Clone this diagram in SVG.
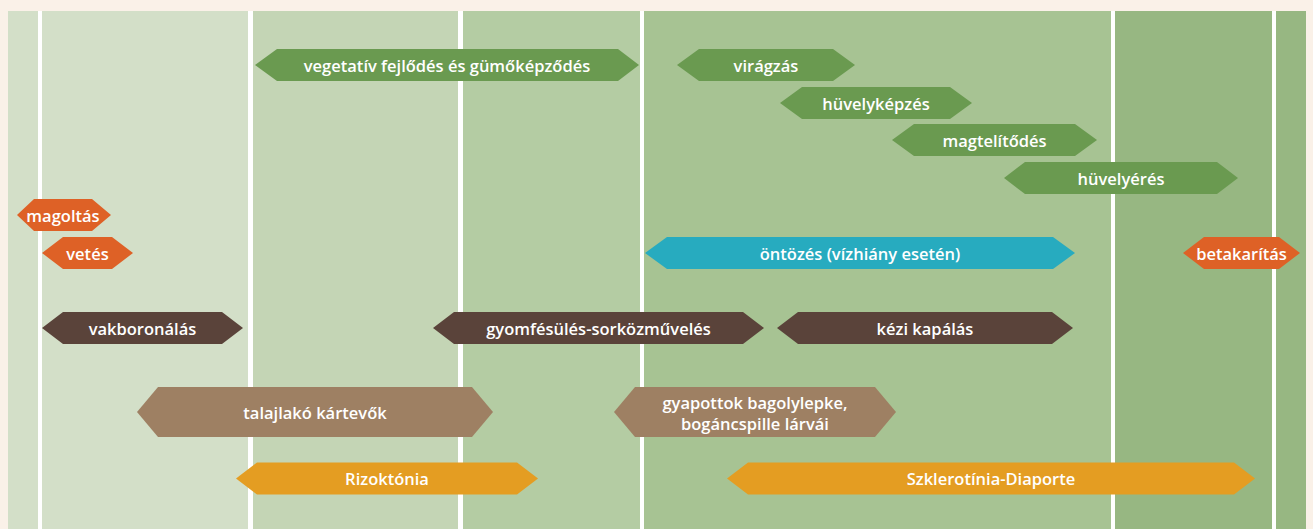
<svg xmlns="http://www.w3.org/2000/svg" width="1313" height="529" viewBox="0 0 1313 529">
<style>
text{font-family:"Open Sans","Noto Sans","Liberation Sans",sans-serif;font-size:16.5px;font-weight:600;fill:#ffffff;text-anchor:middle;dominant-baseline:central}
.g{fill:#6A9A50}.o{fill:#DE6126}.t{fill:#27ABBF}.d{fill:#5A433A}.b{fill:#9E8063}.y{fill:#E49D22}
.sep{fill:#ffffff}
</style>
<rect x="0" y="0" width="1313" height="529" fill="#FAF1E8"/>
<g id="background">
<rect x="8" y="11" width="240" height="518" fill="#D3DFC8"/>
<rect x="248" y="11" width="212" height="518" fill="#C4D5B5"/>
<rect x="460" y="11" width="182" height="518" fill="#B4CCA3"/>
<rect x="642" y="11" width="471" height="518" fill="#A7C393"/>
<rect x="1113" y="11" width="193" height="518" fill="#97B782"/>
<rect class="sep" x="38" y="11" width="4" height="518"/>
<rect class="sep" x="248" y="11" width="5" height="518"/>
<rect class="sep" x="458" y="11" width="5" height="518"/>
<rect class="sep" x="640" y="11" width="4" height="518"/>
<rect class="sep" x="1111" y="11" width="4" height="518"/>
<rect class="sep" x="1272" y="11" width="4" height="518"/>
</g>
<g id="connectors"></g>
<g id="n-vegetativ"><polygon class="g" points="255,65 277,49 618,49 639,65 618,81 277,81"/><text x="447" y="65">vegetatív fejlődés és gümőképződés</text></g>
<g id="n-viragzas"><polygon class="g" points="677,65 699,49 833,49 855,65 833,81 699,81"/><text x="766" y="65">virágzás</text></g>
<g id="n-huvelykepzes"><polygon class="g" points="780,103 802,87 950,87 972,103 950,119 802,119"/><text x="876" y="103">hüvelyképzés</text></g>
<g id="n-magtelitodes"><polygon class="g" points="892,140 914,124 1075,124 1097,140 1075,156 914,156"/><text x="994.5" y="140">magtelítődés</text></g>
<g id="n-huvelyeres"><polygon class="g" points="1004,178 1025,162 1217,162 1238,178 1217,194 1025,194"/><text x="1121" y="178">hüvelyérés</text></g>
<g id="n-magoltas"><polygon class="o" points="17,215 34,199 92,199 111,215 92,231 34,231"/><text x="63" y="215">magoltás</text></g>
<g id="n-vetes"><polygon class="o" points="42,253 63,237 112,237 133,253 112,269 63,269"/><text x="87.5" y="253">vetés</text></g>
<g id="n-ontozes"><polygon class="t" points="645,253 667,237 1053,237 1075,253 1053,269 667,269"/><text x="860" y="253">öntözés (vízhiány esetén)</text></g>
<g id="n-betakaritas"><polygon class="o" points="1183,253 1204,237 1279,237 1300,253 1279,269 1204,269"/><text x="1241.5" y="253">betakarítás</text></g>
<g id="n-vakboronalas"><polygon class="d" points="42,328 63,312 222,312 243,328 222,344 63,344"/><text x="142.5" y="328">vakboronálás</text></g>
<g id="n-gyomfesules"><polygon class="d" points="433,328 454,312 743,312 764,328 743,344 454,344"/><text x="598.5" y="328">gyomfésülés-sorközművelés</text></g>
<g id="n-kezikapalas"><polygon class="d" points="777,328 798,312 1052,312 1073,328 1052,344 798,344"/><text x="925" y="328">kézi kapálás</text></g>
<g id="n-talajlako"><polygon class="b" points="137,412 158,387 472,387 493,412 472,437 158,437"/><text x="315" y="412">talajlakó kártevők</text></g>
<g id="n-gyapottok"><polygon class="b" points="614,412 635,387 875,387 896,412 875,437 635,437"/><text x="755" y="402">gyapottok bagolylepke,</text><text x="755" y="423">bogáncspille lárvái</text></g>
<g id="n-rizoktonia"><polygon class="y" points="236,478.5 257,462.5 517,462.5 538,478.5 517,494.5 257,494.5"/><text x="387" y="478.5">Rizoktónia</text></g>
<g id="n-szklerotinia"><polygon class="y" points="727,478.5 748,462.5 1234,462.5 1255,478.5 1234,494.5 748,494.5"/><text x="991" y="478.5">Szklerotínia-Diaporte</text></g>
</svg>
